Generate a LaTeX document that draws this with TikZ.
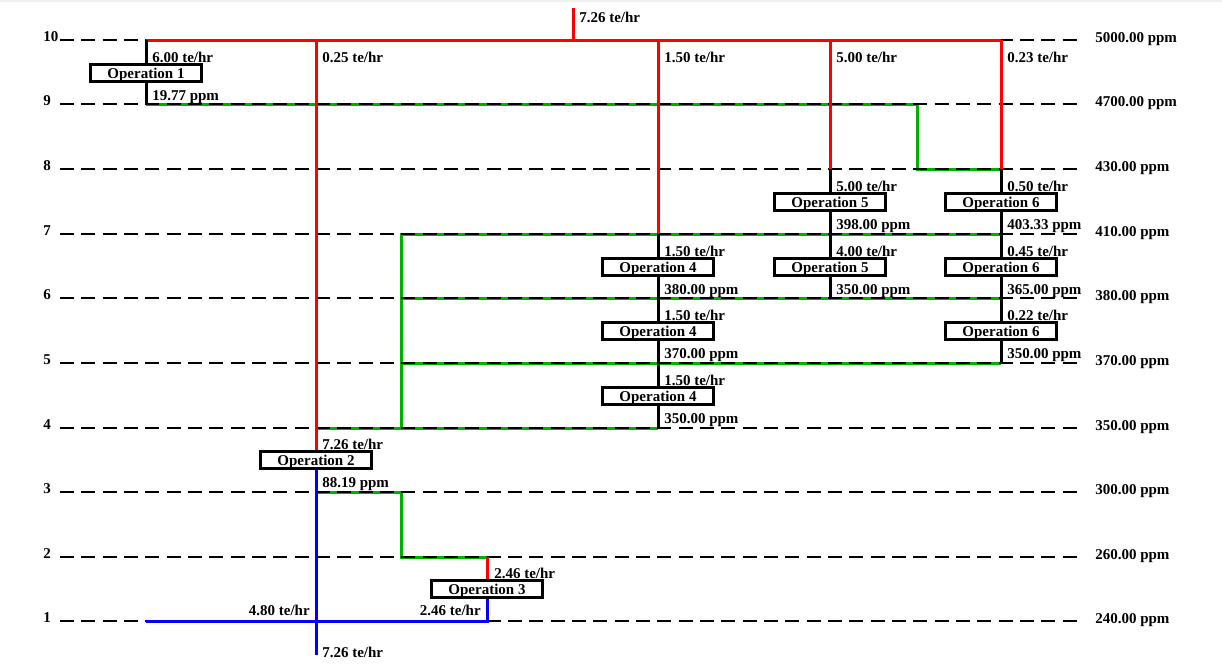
\documentclass[tikz,border=0pt]{standalone}
\usepackage{fontspec}
\setmainfont{Liberation Serif}
\usetikzlibrary{positioning}
\definecolor{freshred}{RGB}{255,0,0}
\definecolor{reusegreen}{RGB}{0,176,0}
\definecolor{wasteblue}{RGB}{0,0,255}
\tikzset{%
  txt/.style={font=\fontsize{11.25}{13.5}\selectfont\bfseries, inner sep=0pt},
  lab/.style={txt, anchor=base west},
  labl/.style={txt, anchor=base east},
  grid/.style={line width=1.1pt, dash pattern=on 10.5pt off 5.5pt},
  fresh/.style={freshred, line width=2.25pt},
  reuse/.style={reusegreen, line width=2.25pt},
  waste/.style={wasteblue, line width=2.25pt},
  pipe/.style={black, line width=2.25pt},
  opbox/.style={txt, draw, fill=white, line width=2.25pt, text height=7.7pt, text depth=0pt,
                minimum width=83pt, minimum height=13pt},
}

\begin{document}
\begin{tikzpicture}[x=0.75pt, y=-0.75pt]
    \useasboundingbox (0,0) rectangle (1222,668);
    \fill[black!6] (0,0) rectangle (1222,2);

    % header and junction points
    \coordinate (feed) at (573,8);
    \coordinate (feedin) at (573,40);
    \coordinate (t1) at (146,40);
    \coordinate (t2) at (316,40);
    \coordinate (t4) at (658,40);
    \coordinate (t5) at (830,40);
    \coordinate (t6) at (1001,40);
    \coordinate (o1) at (146,104);
    \coordinate (j1) at (917,104);
    \coordinate (j2) at (917,169);
    \coordinate (r5) at (830,169);
    \coordinate (r6) at (1001,169);
    \coordinate (r4) at (658,234);
    \coordinate (e7) at (1001,234);
    \coordinate (g7) at (401,234);
    \coordinate (g6) at (401,298);
    \coordinate (e6) at (1001,298);
    \coordinate (o5) at (830,298);
    \coordinate (g5) at (401,363);
    \coordinate (o6) at (1001,363);
    \coordinate (i4) at (316,428);
    \coordinate (g4) at (401,428);
    \coordinate (o4) at (658,428);
    \coordinate (o2) at (316,492);
    \coordinate (k1) at (401,492);
    \coordinate (k2) at (401,557);
    \coordinate (r3) at (487,557);
    \coordinate (m1) at (146,621);
    \coordinate (o3) at (487,621);
    \coordinate (wout) at (316,655);

    % operations
    \node[opbox] (op1) at (146,73) {Operation 1};
    \node[opbox] (op2) at (316,460) {Operation 2};
    \node[opbox] (op3) at (487,589) {Operation 3};
    \node[opbox] (op4a) at (658,267) {Operation 4};
    \node[opbox] (op4b) at (658,331) {Operation 4};
    \node[opbox] (op4c) at (658,396) {Operation 4};
    \node[opbox] (op5a) at (830,202) {Operation 5};
    \node[opbox] (op5b) at (830,267) {Operation 5};
    \node[opbox] (op6a) at (1001,202) {Operation 6};
    \node[opbox] (op6b) at (1001,267) {Operation 6};
    \node[opbox] (op6c) at (1001,331) {Operation 6};

    %reuse streams
    \draw[reuse] (o1) -- (j1) -- (j2) -- (r6);
    \draw[reuse] (o2) -- (k1) -- (k2) -- (r3);
    \draw[reuse] (i4) -- (o4);
    \draw[reuse] (g4) -- (g7) -- (e7);
    \draw[reuse] (g6) -- (e6);
    \draw[reuse] (g5) -- (o6);

    %concentration levels
    \node[lab] (n10) at (43,41) {10};
    \node[lab] (n9) at (43,105) {9};
    \node[lab] (n8) at (43,170) {8};
    \node[lab] (n7) at (43,235) {7};
    \node[lab] (n6) at (43,299) {6};
    \node[lab] (n5) at (43,364) {5};
    \node[lab] (n4) at (43,429) {4};
    \node[lab] (n3) at (43,493) {3};
    \node[lab] (n2) at (43,558) {2};
    \node[lab] (n1) at (43,622) {1};
    \draw[grid] (60,40) -- (1083,40);
    \draw[grid] (60,104) -- (1083,104);
    \draw[grid] (60,169) -- (1083,169);
    \draw[grid] (60,234) -- (1083,234);
    \draw[grid] (60,298) -- (1083,298);
    \draw[grid] (60,363) -- (1083,363);
    \draw[grid] (60,428) -- (1083,428);
    \draw[grid] (60,492) -- (1083,492);
    \draw[grid] (60,557) -- (1083,557);
    \draw[grid] (60,621) -- (1083,621);
    \node[lab] (c10) at (1095,42) {5000.00 ppm};
    \node[lab] (c9) at (1095,106) {4700.00 ppm};
    \node[lab] (c8) at (1095,171) {430.00 ppm};
    \node[lab] (c7) at (1095,236) {410.00 ppm};
    \node[lab] (c6) at (1095,300) {380.00 ppm};
    \node[lab] (c5) at (1095,365) {370.00 ppm};
    \node[lab] (c4) at (1095,430) {350.00 ppm};
    \node[lab] (c3) at (1095,494) {300.00 ppm};
    \node[lab] (c2) at (1095,559) {260.00 ppm};
    \node[lab] (c1) at (1095,623) {240.00 ppm};

    %fresh water
    \draw[fresh] (feed) -- (feedin);
    \draw[fresh] (t1) -- (t6);
    \draw[fresh] (t2) -- (op2);
    \draw[fresh] (t4) -- (r4);
    \draw[fresh] (t5) -- (r5);
    \draw[fresh] (t6) -- (r6);
    \draw[fresh] (r3) -- (op3);

    %waste water
    \draw[waste] (op2) -- (wout);
    \draw[waste] (m1) -- (o3) -- (op3);

    %through the operations
    \draw[pipe] (t1) -- (op1) -- (o1);
    \draw[pipe] (r4) -- (op4a) -- (op4b) -- (op4c) -- (o4);
    \draw[pipe] (r5) -- (op5a) -- (op5b) -- (o5);
    \draw[pipe] (r6) -- (op6a) -- (op6b) -- (op6c) -- (o6);

    % flows and outlet concentrations
    \node[lab] (ffeed) at (579,22) {7.26 te/hr};
    \node[lab] (f2) at (322,62) {0.25 te/hr};
    \node[lab] (f4) at (664,62) {1.50 te/hr};
    \node[lab] (f5) at (836,62) {5.00 te/hr};
    \node[lab] (f6) at (1007,62) {0.23 te/hr};
    \node[lab] (fop1) at ([shift={(6,0)}]op1.north) {6.00 te/hr};
    \node[lab] (cop1) at ([shift={(6,17)}]op1.south) {19.77 ppm};
    \node[lab] (fop2) at ([shift={(6,0)}]op2.north) {7.26 te/hr};
    \node[lab] (cop2) at ([shift={(6,17)}]op2.south) {88.19 ppm};
    \node[lab] (fop3) at ([shift={(7,0)}]op3.north) {2.46 te/hr};
    \node[lab] (fop4a) at ([shift={(6,0)}]op4a.north) {1.50 te/hr};
    \node[lab] (cop4a) at ([shift={(6,17)}]op4a.south) {380.00 ppm};
    \node[lab] (fop4b) at ([shift={(6,0)}]op4b.north) {1.50 te/hr};
    \node[lab] (cop4b) at ([shift={(6,17)}]op4b.south) {370.00 ppm};
    \node[lab] (fop4c) at ([shift={(6,0)}]op4c.north) {1.50 te/hr};
    \node[lab] (cop4c) at ([shift={(6,17)}]op4c.south) {350.00 ppm};
    \node[lab] (fop5a) at ([shift={(6,0)}]op5a.north) {5.00 te/hr};
    \node[lab] (cop5a) at ([shift={(6,17)}]op5a.south) {398.00 ppm};
    \node[lab] (fop5b) at ([shift={(6,0)}]op5b.north) {4.00 te/hr};
    \node[lab] (cop5b) at ([shift={(6,17)}]op5b.south) {350.00 ppm};
    \node[lab] (fop6a) at ([shift={(6,0)}]op6a.north) {0.50 te/hr};
    \node[lab] (cop6a) at ([shift={(6,17)}]op6a.south) {403.33 ppm};
    \node[lab] (fop6b) at ([shift={(6,0)}]op6b.north) {0.45 te/hr};
    \node[lab] (cop6b) at ([shift={(6,17)}]op6b.south) {365.00 ppm};
    \node[lab] (fop6c) at ([shift={(6,0)}]op6c.north) {0.22 te/hr};
    \node[lab] (cop6c) at ([shift={(6,17)}]op6c.south) {350.00 ppm};
    \node[labl] (fm1) at (310,615) {4.80 te/hr};
    \node[labl] (fo3) at (481,615) {2.46 te/hr};
    \node[lab] (fout) at (322,657) {7.26 te/hr};

\end{tikzpicture}
\end{document}
